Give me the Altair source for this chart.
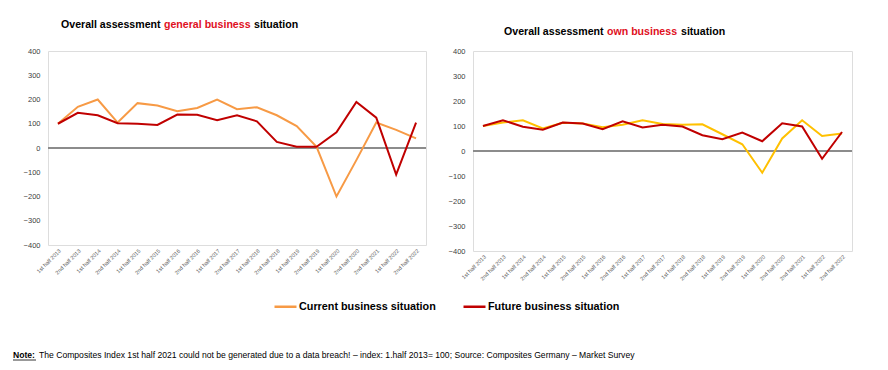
import altair as alt
import pandas as pd

periods = [
    "1st half 2013", "2nd half 2013", "1st half 2014", "2nd half 2014",
    "1st half 2015", "2nd half 2015", "1st half 2016", "2nd half 2016",
    "1st half 2017", "2nd half 2017", "1st half 2018", "2nd half 2018",
    "1st half 2019", "2nd half 2019", "1st half 2020", "2nd half 2020",
    "2nd half 2021", "1st half 2022", "2nd half 2022",
]
series_names = ["Current business situation", "Future business situation"]

general_current = [100, 170, 200, 105, 185, 175, 152, 165, 200, 160, 168, 135, 90, 5, -200, -50, 105, 75, 40]
general_future = [100, 145, 135, 102, 100, 95, 138, 137, 115, 135, 110, 25, 5, 5, 65, 190, 125, -110, 105]
own_current = [100, 114, 123, 90, 113, 110, 95, 105, 123, 108, 105, 107, 67, 27, -87, 50, 123, 60, 70]
own_future = [100, 123, 97, 85, 114, 110, 87, 119, 94, 105, 98, 63, 47, 74, 39, 111, 98, -31, 76]

y_ticks = [-400, -300, -200, -100, 0, 100, 200, 300, 400]

title_general = ["Overall assessment", "general business", "situation"]
title_own = ["Overall assessment", "own business", "situation"]
note_label = "Note:"
note_text = ("The Composites Index 1st half  2021 could not be generated due to a data breach! "
             "\u2013 index: 1.half 2013= 100; Source: Composites Germany \u2013 Market Survey")

ORANGE = "#F79A45"
YELLOW = "#FFC000"
RED = "#C00000"
TITLE_RED = "#E0101E"
FONT = "Liberation Sans"


def panel(cur, fut, cur_color, title_parts, title_x, title_y, width, height, legend, extras=None):
    n = len(periods)
    df = pd.DataFrame({
        "period": periods * 2,
        "series": [series_names[0]] * n + [series_names[1]] * n,
        "value": cur + fut,
        "order": list(range(n)) * 2,
    })
    y_scale = alt.Scale(domain=[-400, 400], nice=False, zero=False)
    y_axis = alt.Axis(values=y_ticks, title=None, ticks=False, domain=False,
                      labelFontSize=7.5, labelFont=FONT, labelColor="#404040",
                      labelOverlap=False, labelFlush=False,
                      gridColor="#d4d4d4", gridWidth=1.2, labelPadding=8)
    x = alt.X("period:N", sort=periods,
              scale=alt.Scale(type="point", padding=0.5),
              axis=alt.Axis(title=None, labelAngle=-45, labelFontSize=5.5, labelFont=FONT,
                            labelColor="#595959", ticks=False, domain=False, grid=False,
                            labelPadding=3, labelOverlap=False))
    y = alt.Y("value:Q", scale=y_scale, axis=y_axis)
    color = alt.Color("series:N", scale=alt.Scale(domain=series_names, range=[cur_color, RED]),
                      legend=legend)
    base = alt.Chart(df)
    zero = base.mark_rule(color="#8c8c8c", strokeWidth=1.3).encode(
        y=alt.Y(datum=0, type="quantitative", scale=y_scale, axis=y_axis))
    lines = base.mark_line(strokeWidth=2).encode(x=x, y=y, color=color, order="order:Q")
    layers = [zero, lines]
    colors = ["#000000", TITLE_RED, "#000000"]
    for part, xx, col in zip(title_parts, title_x, colors):
        layers.append(
            alt.Chart(pd.DataFrame({"t": [part]})).mark_text(
                align="left", baseline="middle", font=FONT, fontSize=10.6,
                fontWeight="bold", color=col
            ).encode(x=alt.value(xx), y=alt.value(title_y), text="t:N")
        )
    if extras:
        layers.extend(extras)
    return alt.layer(*layers).properties(width=width, height=height)


note_layers = [
    alt.Chart(pd.DataFrame({"t": [note_label]})).mark_text(
        align="left", baseline="middle", font=FONT, fontSize=8.6, fontWeight="bold", color="#000"
    ).encode(x=alt.value(-35), y=alt.value(304), text="t:N"),
    alt.Chart(pd.DataFrame({"t": [note_label]})).mark_rule(color="#000", strokeWidth=0.8).encode(
        x=alt.value(-35), x2=alt.value(-12), y=alt.value(309)),
    alt.Chart(pd.DataFrame({"t": [note_text]})).mark_text(
        align="left", baseline="middle", font=FONT, fontSize=8.6, color="#000"
    ).encode(x=alt.value(-9), y=alt.value(304), text="t:N"),
]

legend = alt.Legend(orient="none", legendX=225, legendY=243, direction="horizontal", title=None,
                    symbolType="stroke", symbolSize=484, symbolStrokeWidth=2.5,
                    labelFontSize=10.8, labelFont=FONT, labelFontWeight="bold", labelColor="#000",
                    columnPadding=22, labelOffset=1, columns=2)

left = panel(general_current, general_future, ORANGE, title_general, [13, 116, 206], -26,
             378, 194, legend, note_layers)
right = panel(own_current, own_future, YELLOW, title_own, [31, 134, 208], -19,
              379, 200, None)

chart = alt.hconcat(left, right, spacing=47, bounds="flush").resolve_scale(
    color="independent"
).properties(
    padding={"left": 4, "top": 11, "right": 5, "bottom": 5}
).configure_view(
    stroke="#a0a0a0", strokeWidth=1.3
).configure(background="white")

chart.save("out.html", embed_options={"renderer": "svg", "actions": False})
